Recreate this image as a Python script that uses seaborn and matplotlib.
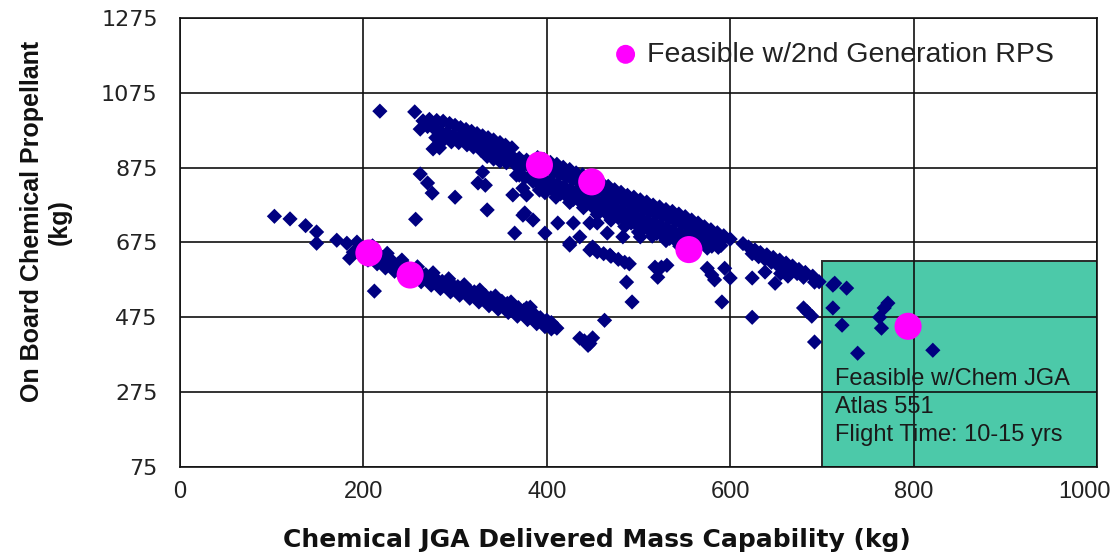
import matplotlib
matplotlib.use("Agg")
import matplotlib.pyplot as plt
from matplotlib.patches import Rectangle
from matplotlib.transforms import ScaledTranslation
import seaborn as sns
import pandas as pd

# ---- data -----------------------------------------------------------------
# lower family of trajectories
lower_band = [
    (103, 745), (120, 738), (137, 720), (149, 703), (149, 673), (171, 681),
    (182, 673), (193, 676), (185, 633), (189, 649), (212, 545),
    (196, 660), (200, 652), (203, 646), (208, 657), (211, 640), (214, 650),
    (217, 630), (219, 638), (222, 624), (226, 633), (229, 619), (232, 624),
    (235, 612), (238, 618), (240, 606), (244, 611), (247, 600), (249, 606),
    (253, 593), (256, 598), (258, 590), (261, 595), (264, 584), (268, 589),
    (270, 578), (273, 584), (277, 572), (280, 576), (282, 566), (286, 571),
    (288, 561), (291, 567), (294, 556), (298, 560), (300, 551), (303, 557),
    (307, 546), (309, 551), (312, 542), (316, 546), (318, 537), (321, 543),
    (324, 532), (328, 537), (330, 528), (333, 533), (337, 522), (339, 527),
    (342, 517), (346, 522), (348, 512), (351, 518), (355, 507), (357, 512),
    (360, 502), (364, 506), (366, 496), (369, 501), (373, 490), (375, 494),
    (378, 484), (382, 489), (384, 478), (387, 482), (391, 470), (393, 474),
    (396, 464), (400, 467), (402, 458), (405, 461), (408, 451), (411, 446),
    (382, 502),
    # lower edge of the band
    (205, 628), (215, 618), (224, 607), (234, 598), (243, 588), (254, 578),
    (263, 570), (274, 561), (284, 552), (295, 543), (305, 534), (316, 526),
    (326, 516), (337, 506), (347, 497), (358, 488), (368, 478), (379, 469),
    (389, 458), (398, 450), (405, 444),
    # upper edge of the band
    (210, 666), (226, 646), (242, 628), (259, 610), (276, 594), (293, 578),
    (310, 562), (327, 548), (344, 532), (361, 516), (378, 500),
]

# start of the upper family
upper_start = [
    (218, 1026), (256, 1024),
    (265, 1000), (272, 1004), (280, 1001), (287, 999), (294, 993), (300, 988),
    (306, 982), (312, 977), (318, 972), (324, 966), (330, 960), (336, 955),
    (342, 949), (349, 942), (355, 935), (362, 928),
    (262, 978), (270, 985), (277, 980), (284, 972), (291, 968), (298, 962),
    (305, 958), (312, 953), (319, 948), (326, 942), (333, 935), (340, 928),
    (347, 921), (354, 915),
    (279, 955), (287, 948), (296, 944), (304, 942), (313, 936), (320, 930),
    (328, 922), (335, 905), (342, 898), (349, 892), (356, 888),
    (276, 925), (283, 928),
    (362, 905), (366, 896), (370, 900), (374, 890), (378, 895), (366, 882),
    (372, 875), (380, 880), (384, 888), (388, 870), (370, 855), (376, 848),
    (384, 858), (385, 838), (392, 815),
]

# main upper band
upper_band = [
    (390, 902), (397, 897), (404, 889), (411, 884), (418, 876), (425, 870),
    (432, 861), (439, 856), (446, 848), (453, 842), (460, 833), (467, 825),
    (474, 816), (481, 809), (488, 801), (495, 796), (502, 789), (509, 783),
    (516, 775), (523, 770), (530, 763), (537, 758), (544, 751), (551, 744),
    (558, 735), (565, 727), (572, 717), (579, 709), (586, 701), (593, 693),
    (600, 684),
    (393, 876), (400, 870), (407, 862), (414, 857), (421, 850), (428, 843),
    (435, 836), (442, 830), (449, 822), (456, 815), (463, 806), (470, 798),
    (477, 790), (484, 784), (491, 777), (498, 770), (505, 764), (512, 757),
    (519, 750), (526, 745), (533, 739), (540, 732), (547, 725), (554, 716),
    (561, 707), (568, 699), (575, 690), (582, 683), (589, 676),
    (391, 850), (398, 843), (405, 838), (412, 831), (419, 824), (426, 818),
    (433, 811), (440, 804), (447, 797), (454, 790), (461, 782), (468, 775),
    (475, 767), (482, 760), (489, 754), (496, 747), (503, 740), (510, 733),
    (517, 727), (524, 721), (531, 714), (538, 707), (545, 700), (552, 692),
    (559, 684), (566, 677), (573, 670), (580, 665), (587, 662),
    (394, 826), (401, 818), (408, 812), (415, 805), (422, 798), (429, 790),
    (436, 785), (443, 777), (450, 770), (457, 762), (464, 755), (471, 748),
    (478, 741), (485, 734), (492, 727), (499, 720), (506, 713), (513, 705),
    (520, 699), (527, 692), (534, 686), (541, 679), (548, 672), (555, 666),
    (562, 661),
    (398, 808), (410, 796), (425, 782), (440, 768), (455, 750), (470, 735),
    (485, 718), (500, 703), (515, 692), (530, 680), (545, 665), (560, 658),
    (575, 660), (590, 667),
]

# scattered solutions below the upper band
upper_scatter = [
    (257, 737), (262, 858), (270, 834), (275, 807), (300, 796), (330, 863),
    (325, 834), (333, 828), (335, 762), (363, 802), (374, 820), (378, 802),
    (367, 855), (376, 754),
    (365, 700), (374, 748), (385, 735), (398, 700), (412, 727), (429, 727),
    (436, 690), (447, 727), (466, 700), (483, 690), (502, 690), (450, 663),
    (469, 641), (425, 673), (455, 727),
    (425, 668), (447, 655), (455, 650), (462, 645), (470, 638), (478, 630),
    (485, 622), (490, 618), (487, 569), (493, 516), (463, 467),
    (436, 419), (441, 412), (447, 405), (450, 420), (445, 400),
    (518, 609), (525, 609), (521, 582), (531, 614),
    (575, 606), (580, 588), (583, 575), (594, 606), (600, 580), (591, 516),
    (624, 580), (638, 596), (649, 566), (624, 475),
]

# tail of the upper family reaching the high-capability region
upper_tail = [
    (614, 672), (620, 663), (627, 655), (633, 648), (640, 642), (647, 635),
    (654, 628), (661, 620), (668, 612), (675, 603), (682, 595), (690, 585),
    (697, 570), (624, 645), (631, 637), (638, 630), (645, 622), (652, 614),
    (659, 606), (666, 598), (673, 592), (680, 582), (655, 592), (663, 585),
    (679, 588), (692, 569), (714, 566), (727, 553), (712, 561),
    (680, 500), (684, 490), (689, 478), (712, 500), (722, 454), (692, 409),
    (739, 379), (763, 475), (765, 446), (768, 500), (772, 513), (821, 387),
]

# cases also feasible with the 2nd generation RPS
rps_x = [206, 251, 392, 449, 555, 794]
rps_y = [647, 588, 882, 837, 656, 451]

x_ticks = [0, 200, 400, 600, 800, 1000]
y_ticks = [75, 275, 475, 675, 875, 1075, 1275]

chem_region = (700, 75, 300, 550)  # x0, y0, width, height
region_text = "Feasible w/Chem JGA\nAtlas 551\nFlight Time: 10-15 yrs"

# ---- figure ---------------------------------------------------------------
sns.set_theme(style="white")
plt.rcParams["font.family"] = ["Liberation Sans", "DejaVu Sans"]

all_pts = lower_band + upper_start + upper_band + upper_scatter + upper_tail
cases = pd.DataFrame(all_pts, columns=["mass", "prop"])
rps = pd.DataFrame({"mass": rps_x, "prop": rps_y})

fig = plt.figure(figsize=(11.13, 5.55), dpi=100)
ax = fig.add_axes([0.1617, 0.1586, 0.8239, 0.8090])

ax.add_patch(Rectangle((chem_region[0], chem_region[1]), chem_region[2], chem_region[3],
                       facecolor="#4cc9a9", edgecolor="#2a2a2a", linewidth=1.4, zorder=0.3))

sns.scatterplot(data=cases, x="mass", y="prop", marker="D", s=60, color="#000080",
                edgecolor="none", linewidth=0, ax=ax, zorder=3)
sns.scatterplot(data=rps, x="mass", y="prop", marker="o", s=380, color="#ff00ff",
                edgecolor="none", linewidth=0, ax=ax, zorder=4,
                label="Feasible w/2nd Generation RPS")

ax.set_xlim(0, 1000)
ax.set_ylim(75, 1275)
ax.set_xticks(x_ticks)
ax.set_yticks(y_ticks)
ax.set_axisbelow(True)
ax.grid(True, color="#111111", linewidth=1.2)
for sp in ax.spines.values():
    sp.set_color("#111111")
    sp.set_linewidth(1.2)

ax.tick_params(axis="y", length=0, pad=16, labelsize=16, labelcolor="#222222")
ax.tick_params(axis="x", length=0, pad=10, labelsize=17, labelcolor="#222222")
for lab in ax.get_yticklabels():
    lab.set_family("DejaVu Sans")
# keep the right-most label inside the canvas
last = ax.get_xticklabels()[-1]
last.set_transform(last.get_transform() + ScaledTranslation(-12 / 100, 0, fig.dpi_scale_trans))

ax.set_xlabel("Chemical JGA Delivered Mass Capability (kg)", fontsize=18,
              fontweight="bold", family="DejaVu Sans", color="#111111")
ax.xaxis.set_label_coords(0.455, -0.135)
ax.set_ylabel("On Board Chemical Propellant\n(kg)", fontsize=18, fontweight="bold",
              color="#111111")
ax.yaxis.set_label_coords(-0.118, 0.546)

ax.text(714, 235, region_text, fontsize=17, color="#1a1a1a", va="center", ha="left",
        linespacing=1.35, zorder=5)

leg = ax.legend(loc="center left", bbox_to_anchor=(0.458, 0.918), frameon=False,
                fontsize=20.5, markerscale=0.7, handlelength=1.0, handletextpad=0.25,
                borderaxespad=0)
for t in leg.get_texts():
    t.set_color("#222222")

fig.savefig("out.png", dpi=100)
